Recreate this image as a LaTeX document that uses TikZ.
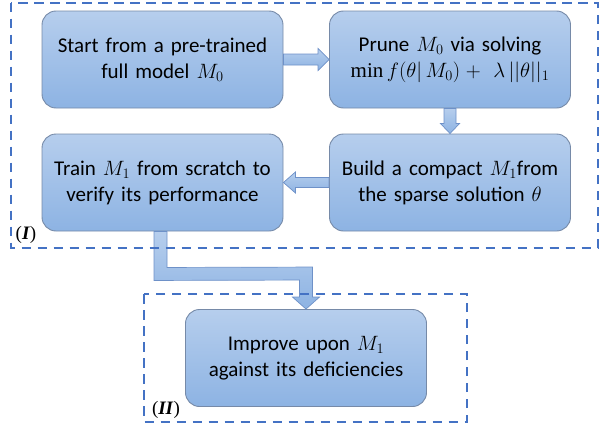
\documentclass[tikz,border=0pt]{standalone}
\usepackage{fontspec}
\setmainfont{Carlito}
\newfontfamily\labfont{Liberation Serif}
\usetikzlibrary{calc}
\definecolor{boxtop}{RGB}{182,206,237}
\definecolor{boxbot}{RGB}{141,179,227}
\definecolor{boxline}{RGB}{118,138,168}
\definecolor{arrline}{RGB}{110,145,200}
\definecolor{dashblue}{RGB}{68,114,196}
\newcommand{\mymin}{\mathop{\textnormal{\labfont min}}}
\begin{document}
\begin{tikzpicture}[x=1pt,y=-1pt,
  stepbox/.style={rounded corners=14pt, draw=boxline, line width=0.9pt,
    top color=boxtop, bottom color=boxbot, minimum width=241pt, minimum height=97pt,
    text width=236pt, align=center, inner sep=0pt,
    font=\fontsize{21}{26}\selectfont},
  barrow/.style={draw=arrline, line width=0.7pt, top color=boxtop, bottom color=boxbot},
  groupbox/.style={draw=dashblue, line width=2pt, dash pattern=on 9.5pt off 6.5pt},
  grouplabel/.style={font=\labfont\fontsize{19}{19}\selectfont, inner sep=0pt}]
\useasboundingbox (0,0) rectangle (602,423);
\node[stepbox] (b1) at (162.5,59.5) {Start from a pre-trained\\ full model $M_0$};
\node[stepbox] (b2) at (450,59.5) {Prune $M_0$ via solving\\ $\mymin f(\theta|\,M_0) +\ \lambda\,||\theta||_1$};
\node[stepbox] (b3) at (450,182.5) {Build a compact $M_1$from\\ the sparse solution $\theta$};
\node[stepbox] (b4) at (162.5,182.5) {Train $M_1$ from scratch to\\ verify its performance};
\node[stepbox] (b5) at (306,358) {Improve upon $M_1$\\ against its deficiencies};
% arrow b1 -> b2
\draw[barrow] ($(b1.east)+(0,-5.5)$) -- ($(b2.west)+(-11,-5.5)$) -- ($(b2.west)+(-11,-11)$)
  -- (b2.west) -- ($(b2.west)+(-11,11)$) -- ($(b2.west)+(-11,5.5)$) -- ($(b1.east)+(0,5.5)$) -- cycle;
% arrow b2 -> b3
\draw[barrow] ($(b2.south)+(-6,0)$) -- ($(b3.north)+(-6,-10)$) -- ($(b3.north)+(-9.5,-10)$)
  -- (b3.north) -- ($(b3.north)+(9.5,-10)$) -- ($(b3.north)+(6,-10)$) -- ($(b2.south)+(6,0)$) -- cycle;
% arrow b3 -> b4
\draw[barrow] ($(b3.west)+(0,-5)$) -- ($(b4.east)+(12,-5)$) -- ($(b4.east)+(12,-10.5)$)
  -- (b4.east) -- ($(b4.east)+(12,10.5)$) -- ($(b4.east)+(12,5)$) -- ($(b3.west)+(0,5)$) -- cycle;
% bent arrow b4 -> b5
\draw[barrow] ($(b4.south)+(-8.5,0)$) -- ($(b4.south)+(-8.5,49)$) -- ($(b5.north)+(-6.5,-29)$)
  -- ($(b5.north)+(-6.5,-12)$) -- ($(b5.north)+(-13.5,-12)$) -- (b5.north)
  -- ($(b5.north)+(13.5,-12)$) -- ($(b5.north)+(6.5,-12)$) -- ($(b5.north)+(6.5,-42)$)
  -- ($(b4.south)+(4.5,36)$) -- ($(b4.south)+(4.5,0)$) -- cycle;
% group boxes
\draw[groupbox] (10.5,2.5) rectangle (598,247.5);
\draw[groupbox] (144,294) rectangle (467,421.5);
\node[grouplabel] (l1) at (26,235) {(\textbf{\textit{I}})};
\node[grouplabel] (l2) at (166,409.5) {(\textbf{\textit{II}})};
\end{tikzpicture}
\end{document}
